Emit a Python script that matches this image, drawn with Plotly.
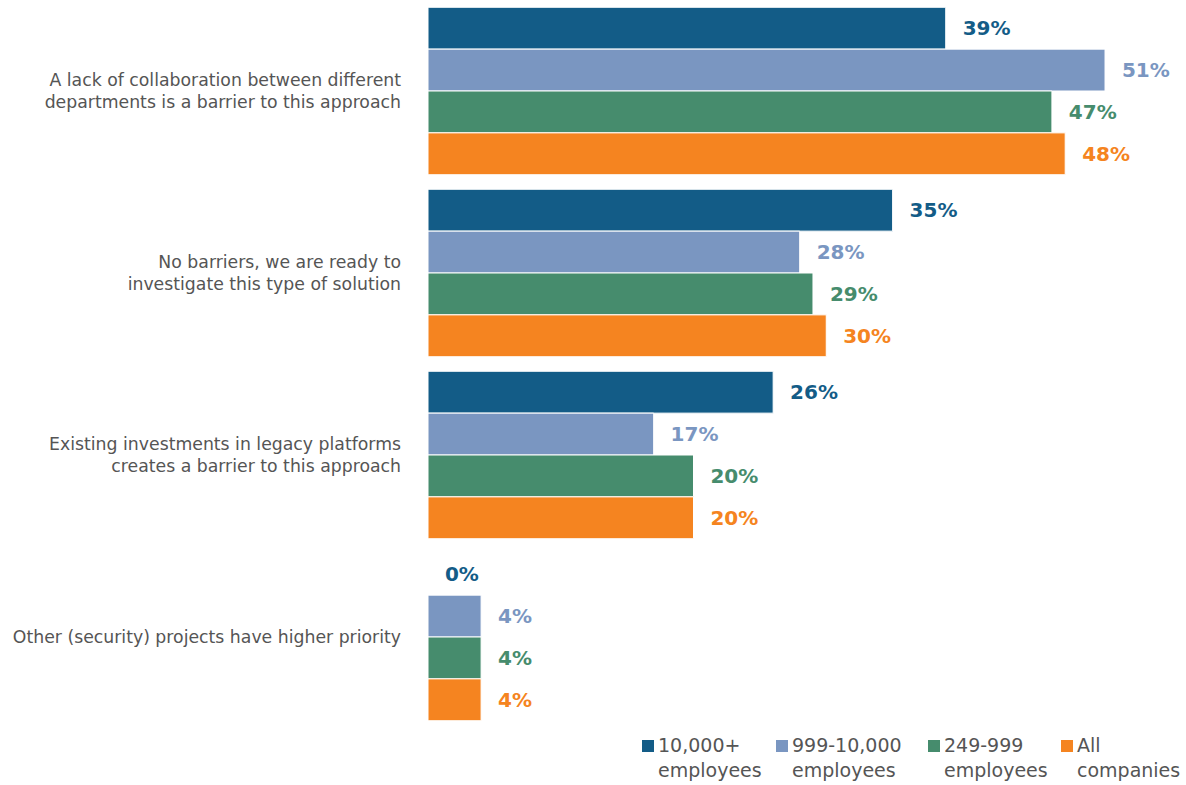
import plotly.graph_objects as go

# Survey answers (per company size) about barriers to the approach
categories = [
    "A lack of collaboration between different<br>departments is a barrier to this approach",
    "No barriers, we are ready to<br>investigate this type of solution",
    "Existing investments in legacy platforms<br>creates a barrier to this approach",
    "Other (security) projects have higher priority",
]
series_names = [
    "10,000+<br>employees",
    "999-10,000<br>employees",
    "249-999<br>employees",
    "All<br>companies",
]
series_values = [
    [39, 35, 26, 0],
    [51, 28, 17, 4],
    [47, 29, 20, 4],
    [48, 30, 20, 4],
]
colors = ["#135C87", "#7A96C1", "#468C6D", "#F58420"]

W, H = 1186, 785
ML, MR, MT, MB = 428, 0, 0, 57

fig = go.Figure()
for name, vals, col in zip(series_names, series_values, colors):
    fig.add_trace(go.Bar(
        y=categories,
        x=vals,
        name=name,
        orientation="h",
        marker=dict(color=col, line=dict(color="white", width=1)),
        text=[f"\u00a0\u00a0{v}%" for v in vals],
        textposition="outside",
        cliponaxis=False,
        textfont=dict(family="DejaVu Sans", size=20, color=col, weight="bold"),
        hoverinfo="skip",
        showlegend=False,
    ))


# pixel -> paper coordinate helpers for the legend row under the plot
def paper_x(px):
    return (px - ML) / (W - ML - MR)


def paper_y(py):
    return (H - MB - py) / (H - MT - MB)


legend_symbol_x = [642, 776, 928, 1061]
legend_text_x = [657, 791, 943, 1076]
for name, col, sx, tx in zip(series_names, colors, legend_symbol_x, legend_text_x):
    fig.add_shape(
        type="rect", xref="paper", yref="paper",
        x0=paper_x(sx), x1=paper_x(sx + 12),
        y0=paper_y(752), y1=paper_y(740),
        fillcolor=col, line=dict(width=0),
    )
    fig.add_annotation(
        xref="paper", yref="paper",
        x=paper_x(tx), y=paper_y(733),
        xanchor="left", yanchor="top", align="left",
        text=name, showarrow=False,
        font=dict(family="DejaVu Sans", size=19, color="#555555"),
        borderpad=0,
    )

fig.update_layout(
    width=W,
    height=H,
    barmode="group",
    bargap=0.08,
    bargroupgap=0.0,
    plot_bgcolor="white",
    paper_bgcolor="white",
    margin=dict(l=ML, r=MR, t=MT, b=MB, autoexpand=False),
    font=dict(family="DejaVu Sans", color="#555555"),
    showlegend=False,
    xaxis=dict(range=[0, 57.1], visible=False, fixedrange=True),
    yaxis=dict(
        autorange="reversed",
        showline=False, showgrid=False, zeroline=False,
        ticks="", ticklabelstandoff=26,
        tickfont=dict(size=17.3, color="#555555"),
    ),
)

fig.write_html("out.html")
